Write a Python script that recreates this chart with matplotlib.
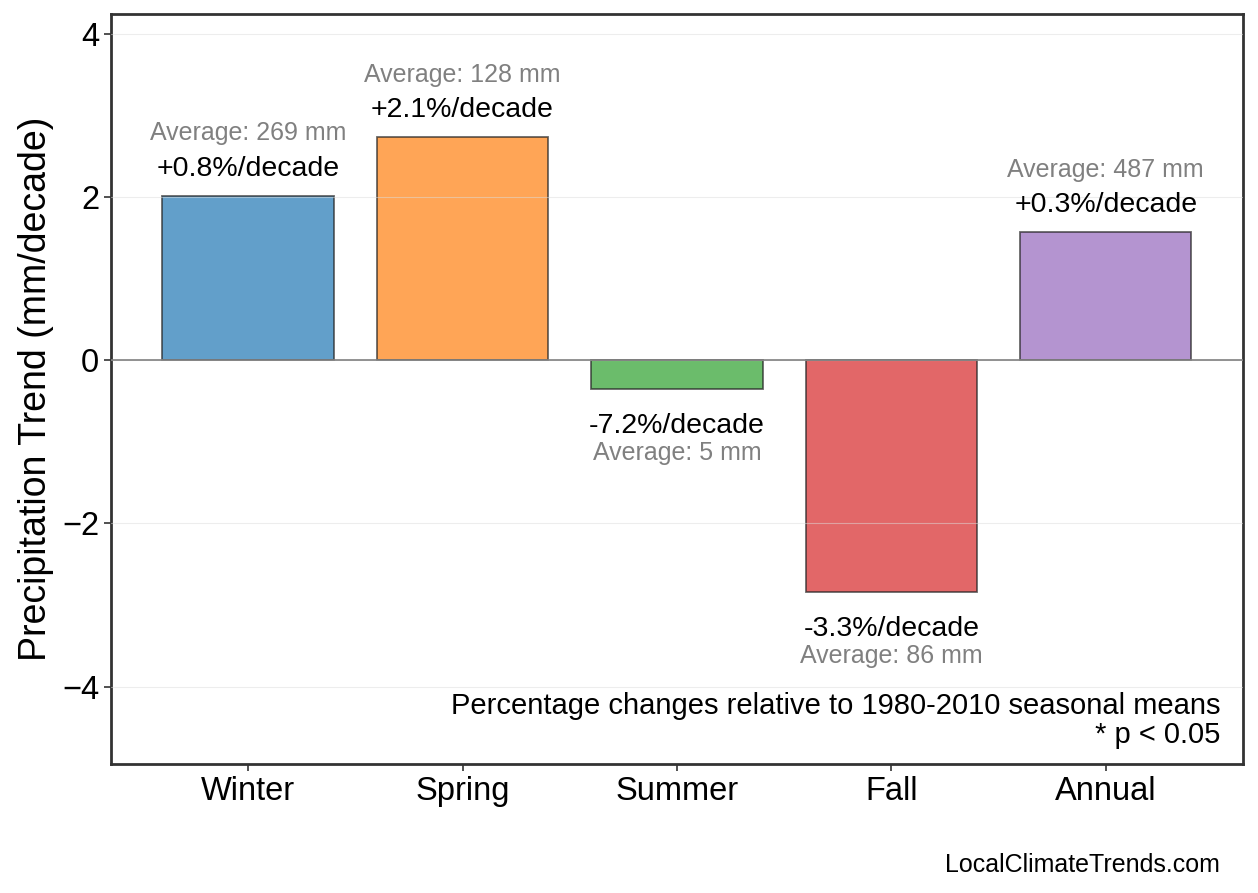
import matplotlib
matplotlib.use("Agg")
import matplotlib.pyplot as plt

plt.rcParams['font.family'] = ['Liberation Sans', 'DejaVu Sans']

seasons = ["Winter", "Spring", "Summer", "Fall", "Annual"]
trends = [2.02, 2.74, -0.35, -2.84, 1.57]
pct_labels = ["+0.8%/decade", "+2.1%/decade", "-7.2%/decade", "-3.3%/decade", "+0.3%/decade"]
averages = [269, 128, 5, 86, 487]
colors = ["#1f77b4", "#ff7f0e", "#2ca02c", "#d62728", "#9467bd"]

fig = plt.figure(figsize=(12.58, 8.93), dpi=100)
ax = fig.add_axes([0.0882, 0.1445, 0.8998, 0.8398])

x = list(range(len(seasons)))
bars = ax.bar(x, trends, width=0.8, color=colors, alpha=0.7, linewidth=1.3, zorder=2)
# keep edge opaque
for b in bars:
    b.set_edgecolor((0.15, 0.15, 0.15, 1.0))

ax.axhline(0, color="gray", linewidth=1.2, zorder=3)
ax.grid(axis="y", color="#dddddd", alpha=0.5, linewidth=0.8, zorder=4)
ax.set_axisbelow(False)

for i, (v, lab, avg) in enumerate(zip(trends, pct_labels, averages)):
    if v >= 0:
        off_lab, off_avg = 14.4, 40
    else:
        off_lab, off_avg = -32, -51
    ax.annotate(lab, (i, v), xytext=(0, off_lab), textcoords="offset points",
                ha="center", va="baseline", fontsize=20.5, color="black")
    ax.annotate(f"Average: {avg} mm", (i, v), xytext=(0, off_avg), textcoords="offset points",
                ha="center", va="baseline", fontsize=18, color="gray")

ax.set_xticks(x)
ax.set_xticklabels(seasons, fontsize=23.5)
ax.set_yticks([-4, -2, 0, 2, 4])
ax.tick_params(axis="y", labelsize=23.5)
ax.tick_params(length=5, width=1.2, color="#333333")
ax.set_ylim(-4.95, 4.25)
ax.set_ylabel("Precipitation Trend (mm/decade)", fontsize=27, labelpad=6)

for s in ax.spines.values():
    s.set_linewidth(2)
    s.set_color("#333333")

ax.text(0.98, 0.02, "Percentage changes relative to 1980-2010 seasonal means\n* p < 0.05",
        transform=ax.transAxes, ha="right", va="bottom", fontsize=21, linespacing=1.05)
fig.text(0.97, 0.018, "LocalClimateTrends.com", ha="right", va="bottom", fontsize=18)

fig.savefig("out.png", dpi=100)
